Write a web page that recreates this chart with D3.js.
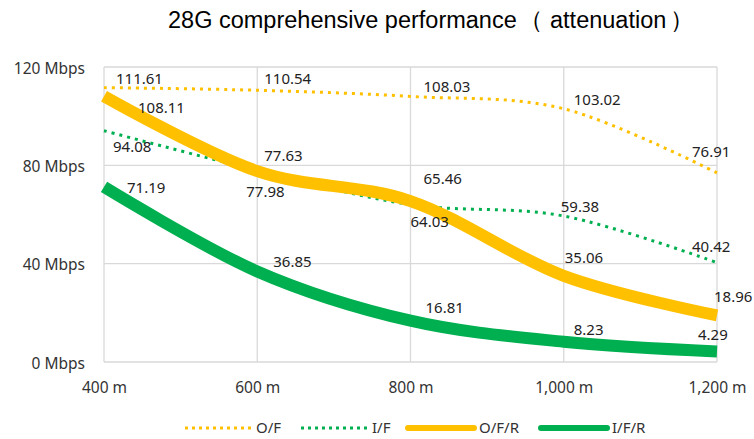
<!DOCTYPE html>
<html><head><meta charset="utf-8">
<script src="https://cdn.jsdelivr.net/npm/d3@7"></script>
<style>body{margin:0;background:#fff}</style>
</head><body>
<svg id="c" width="754" height="439"></svg>
<script>
const titleParts = ["28G comprehensive performance", "（", "attenuation", "）"];
const distances = [400, 600, 800, 1000, 1200];
const xTickLabels = ["400 m", "600 m", "800 m", "1,000 m", "1,200 m"];
const yTicks = [0, 40, 80, 120];
const yTickLabels = ["0 Mbps", "40 Mbps", "80 Mbps", "120 Mbps"];
const seriesNames = ["O/F", "I/F", "O/F/R", "I/F/R"];
const valuesOF = [111.61, 110.54, 108.03, 103.02, 76.91];
const valuesIF = [94.08, 77.98, 64.03, 59.38, 40.42];
const valuesOFR = [108.11, 77.63, 65.46, 35.06, 18.96];
const valuesIFR = [71.19, 36.85, 16.81, 8.23, 4.29];

// label offsets (dx, dy) from each point, per series
const offOF = [[12,-4],[7,-6],[13,-4],[10,-4],[-25,-16]];
const offIF = [[9,21],[-11,27],[0,22],[-3,-4],[-25,-11]];
const offOFR = [[34,17],[7,-10],[13,-17],[1,-13],[-3,-13]];
const offIFR = [[23,6],[16,-4],[15,-8],[10,-7],[-19,-11]];

const styles = [
  {color:"#FFC000", width:3, dash:"3,5"},
  {color:"#00B050", width:3, dash:"3,5"},
  {color:"#FFC000", width:12, dash:null},
  {color:"#00B050", width:12, dash:null}
];
const series = [valuesOF, valuesIF, valuesOFR, valuesIFR];
const offsets = [offOF, offIF, offOFR, offIFR];

const svg = d3.select("#c");
const x = d3.scaleLinear().domain([400, 1200]).range([104, 717]);
const y = d3.scaleLinear().domain([0, 120]).range([362, 67]);
const font = "'Noto Sans', sans-serif";

const tt = svg.append("text").attr("y", 28)
  .attr("font-family","'Liberation Sans', Arial, sans-serif").attr("font-size",23.5).attr("fill","#000");
const titleX = [168, 519, 550, 670];
titleParts.forEach((t, i) => tt.append("tspan").attr("x", titleX[i]).text(t));

// grid
const grid = svg.append("g").attr("stroke","#d9d9d9").attr("stroke-width",1.3);
yTicks.forEach(t => grid.append("line").attr("x1",104).attr("x2",717).attr("y1",y(t)).attr("y2",y(t)));
distances.forEach(d => grid.append("line").attr("x1",x(d)).attr("x2",x(d)).attr("y1",67).attr("y2",362));

// y axis labels
const yAxis = d3.axisLeft(y).tickValues(yTicks).tickSize(0).tickPadding(19)
  .tickFormat((d,i)=>yTickLabels[i]);
const ya = svg.append("g").attr("transform","translate(104,0)").call(yAxis);
ya.select(".domain").remove();
ya.selectAll("text").attr("font-family",font).attr("font-size",15.5).attr("fill","#333").attr("dy","0.4em");

const xAxis = d3.axisBottom(x).tickValues(distances).tickSize(0).tickPadding(20)
  .tickFormat((d,i)=>xTickLabels[i]);
const xa = svg.append("g").attr("transform","translate(0,362)").call(xAxis);
xa.select(".domain").remove();
xa.selectAll("text").attr("font-family",font).attr("font-size",15.5).attr("fill","#333");

// leader line for 108.11
svg.append("path").attr("d", `M${x(400)+2},${y(108.11)+2} L${x(400)+15},${y(108.11)+12} L${x(400)+29},${y(108.11)+12}`)
  .attr("fill","none").attr("stroke","#999").attr("stroke-width",1);

const line = d3.line().x((d,i)=>x(distances[i])).y(d=>y(d)).curve(d3.curveCardinal.tension(0));
series.forEach((vals, s) => {
  const p = svg.append("path").attr("d", line(vals)).attr("fill","none")
    .attr("stroke", styles[s].color).attr("stroke-width", styles[s].width)
    .attr("stroke-linecap","butt");
  if (styles[s].dash) p.attr("stroke-dasharray", styles[s].dash);
});

series.forEach((vals, s) => {
  vals.forEach((v, i) => {
    svg.append("text").attr("x", x(distances[i]) + offsets[s][i][0])
      .attr("y", y(v) + offsets[s][i][1])
      .attr("font-family",font).attr("font-size",15).attr("fill","#222")
      .text(v.toFixed(2));
  });
});

// legend
const legX = [185, 301, 408, 541];
const lg = svg.append("g");
seriesNames.forEach((n, s) => {
  const st = styles[s];
  const l = lg.append("line").attr("x1", legX[s]).attr("x2", legX[s] + 66).attr("y1",428).attr("y2",428)
    .attr("stroke", st.color).attr("stroke-width", st.dash ? 3 : 6).attr("stroke-linecap", st.dash ? "butt" : "round");
  if (st.dash) l.attr("stroke-dasharray","3,4");
  lg.append("text").attr("x", legX[s] + 71).attr("y", 433).attr("font-family",font)
    .attr("font-size",15).attr("fill","#333").text(n);
});
</script>
</body></html>
